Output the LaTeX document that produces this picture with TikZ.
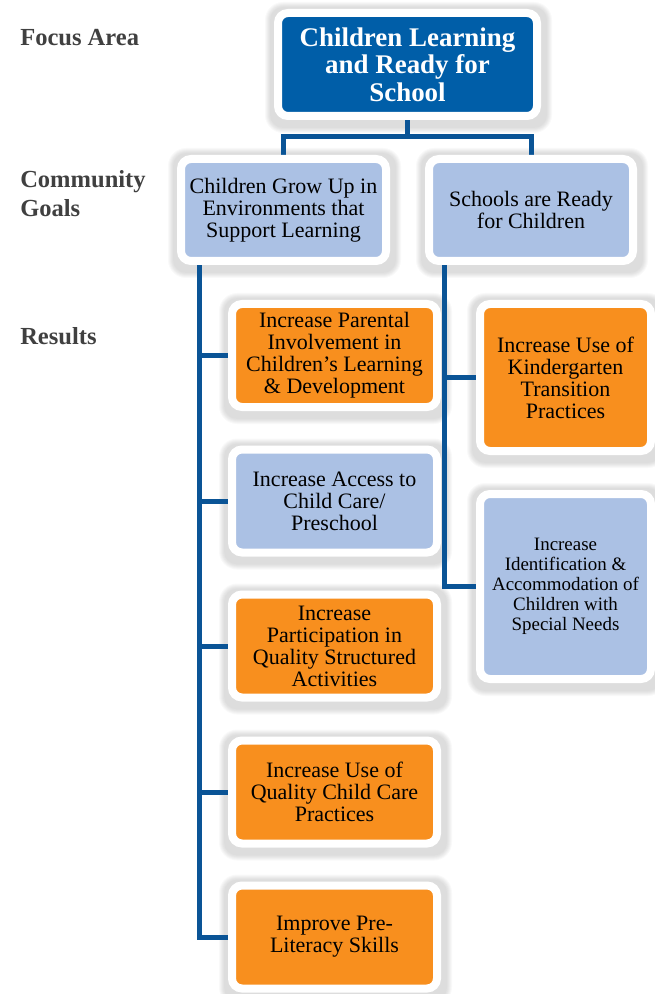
\documentclass[tikz,border=0pt]{standalone}
\usepackage{fontspec}
\setmainfont{Liberation Serif}
\definecolor{topblue}{RGB}{0,94,168}
\definecolor{lightblue}{RGB}{171,193,228}
\definecolor{orangefill}{RGB}{248,143,30}
\definecolor{linecol}{RGB}{10,84,150}
\definecolor{labelgray}{RGB}{64,64,64}
\pgfdeclarelayer{shadowlayer}
\pgfdeclarelayer{linelayer}
\pgfsetlayers{shadowlayer,linelayer,main}
\newcommand\boxshadow[1]{%
  \begin{pgfonlayer}{shadowlayer}
  \foreach \d in {1,...,6}{%
    \fill[black,opacity=0.022,rounded corners=9pt+0.75*\d pt]
      ([shift={(-4-\d+1,4+\d+3)}]#1.south west) rectangle
      ([shift={(4+\d+1,-4-\d+3)}]#1.north east);
  }
  \end{pgfonlayer}}
\begin{document}
\begin{tikzpicture}[x=0.75pt,y=-0.75pt,
  box/.style={draw=white,line width=6pt,rounded corners=7.5pt,inner sep=0pt,
    align=center,font=\fontsize{16.5pt}{16.5pt}\selectfont},
  smallbox/.style={box,font=\fontsize{14.2pt}{15pt}\selectfont},
  topbox/.style={box,fill=topblue,text=white,
    font=\bfseries\fontsize{20.2pt}{20.6pt}\selectfont},
  lab/.style={inner sep=0pt,anchor=west,align=left,text=labelgray,
    font=\bfseries\fontsize{18.4pt}{21.75pt}\selectfont},
  conn/.style={draw=linecol,line width=3.75pt,line join=miter}]
\useasboundingbox (0,0) rectangle (654,994);

% labels
\node[lab] (fa) at (20,38) {Focus Area};
\node[lab] (cg) at (20,194) {Community\\Goals};
\node[lab] (rs) at (20,336) {Results};

% top box
\node[topbox,minimum width=194.25pt,minimum height=77.25pt] (top) at (407.5,64.5)
  {Children Learning\\and Ready for\\School};

% goals
\node[box,fill=lightblue,minimum width=153.75pt,minimum height=76.5pt] (gl) at (283.5,210)
  {Children Grow Up in\\Environments that\\Support Learning};
\node[box,fill=lightblue,minimum width=153pt,minimum height=76.5pt] (gr) at (531,210)
  {Schools are Ready\\for Children};

% left results
\node[box,fill=orangefill,minimum width=153.75pt,minimum height=77.25pt] (r1) at (334.5,355.5)
  {Increase Parental\\Involvement in\\Children’s Learning\\\& Development};
\node[box,fill=lightblue,minimum width=153.75pt,minimum height=77.25pt] (r2) at (334.5,501)
  {Increase Access to\\Child Care/\\Preschool};
\node[box,fill=orangefill,minimum width=153.75pt,minimum height=77.25pt] (r3) at (334.5,646)
  {Increase\\Participation in\\Quality Structured\\Activities};
\node[box,fill=orangefill,minimum width=153.75pt,minimum height=77.25pt] (r4) at (334.5,792)
  {Increase Use of\\Quality Child Care\\Practices};
\node[box,fill=orangefill,minimum width=153.75pt,minimum height=77.25pt] (r5) at (334.5,937)
  {Improve Pre-\\Literacy Skills};

% right results
\node[box,fill=orangefill,minimum width=128.25pt,minimum height=110.25pt] (k) at (565.5,377.5)
  {Increase Use of\\Kindergarten\\Transition\\Practices};
\node[smallbox,fill=lightblue,minimum width=128.25pt,minimum height=138.75pt] (id) at (565.5,586.5)
  {Increase\\Identification \&\\Accommodation of\\Children with\\Special Needs};

\foreach \n in {top,gl,gr,r1,r2,r3,r4,r5,k,id}{\boxshadow{\n}}

\begin{pgfonlayer}{linelayer}
\coordinate (j) at (407.5,137);
\draw[conn] (top.south) -- (top.south |- j);
\draw[conn] (gl.north) |- (j) -| (gr.north);
\coordinate (ls) at ([xshift=16.5pt]gl.south west);
\draw[conn] (ls) |- (r5.west);
\foreach \n in {r1,r2,r3,r4}{\draw[conn] (ls |- \n.west) -- (\n.west);}
\coordinate (rsp) at ([xshift=14.25pt]gr.south west);
\draw[conn] (rsp) |- (id.west);
\draw[conn] (rsp |- k.west) -- (k.west);
\end{pgfonlayer}
\end{tikzpicture}
\end{document}
